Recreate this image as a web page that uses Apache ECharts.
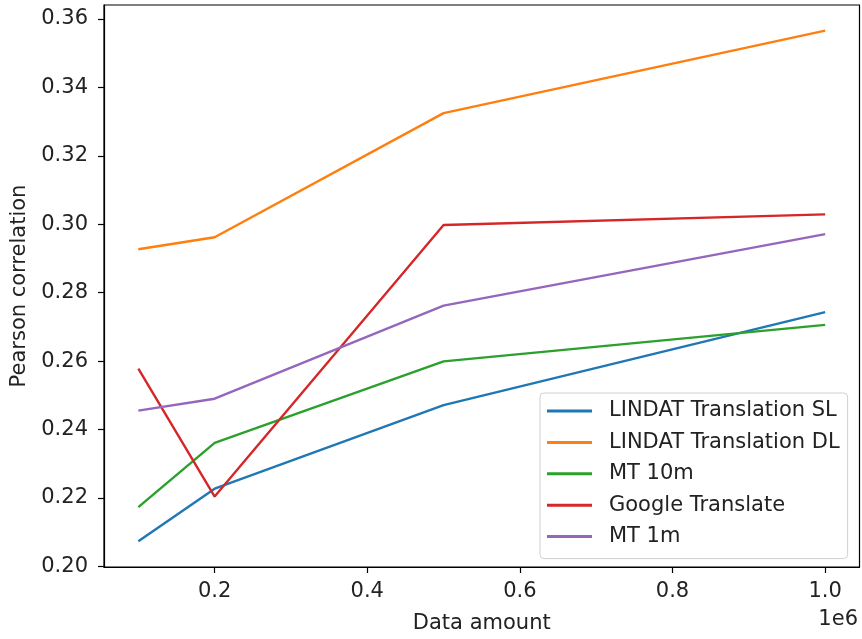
<!DOCTYPE html>
<html>
<head>
<meta charset="utf-8">
<script src="https://cdn.jsdelivr.net/npm/echarts@6/dist/echarts.min.js"></script>
<style>html,body{margin:0;padding:0;background:#fff}#c{width:862px;height:639px}</style>
</head>
<body>
<div id="c"></div>
<script>
const dataAmount = [100000, 200000, 500000, 1000000];
const seriesNames = ['LINDAT Translation SL', 'LINDAT Translation DL', 'MT 10m', 'Google Translate', 'MT 1m'];
const lindatSL = [0.2073, 0.2227, 0.2471, 0.2743];
const lindatDL = [0.2927, 0.2962, 0.3325, 0.3566];
const mt10m = [0.2173, 0.2361, 0.2599, 0.2706];
const googleTranslate = [0.2578, 0.2204, 0.2998, 0.3029];
const mt1m = [0.2455, 0.2490, 0.2762, 0.2971];
const xTicks = [200000, 400000, 600000, 800000, 1000000];
const yTicks = [0.20, 0.22, 0.24, 0.26, 0.28, 0.30, 0.32, 0.34, 0.36];
const colors = ['#1f77b4', '#ff7f0e', '#2ca02c', '#d62728', '#9467bd'];

const allValues = [lindatSL, lindatDL, mt10m, googleTranslate, mt1m];
const font = 'DejaVu Sans';
const txt = '#222';
const fs = 21;

const chart = echarts.init(document.getElementById('c'), null, {renderer: 'canvas'});
chart.setOption({
  animation: false,
  backgroundColor: '#fff',
  grid: {left: 104, right: 2.5, top: 5, bottom: 70.5, show: true, borderColor: '#000', borderWidth: 1.2, backgroundColor: 'transparent'},
  xAxis: {
    type: 'value', min: 55000, max: 1045000,
    name: 'Data amount', nameLocation: 'middle', nameGap: 46,
    nameTextStyle: {fontFamily: font, fontSize: fs, color: txt},
    axisLine: {show: true, lineStyle: {color: '#000', width: 1.2}},
    axisTick: {show: true, length: 6, customValues: xTicks, lineStyle: {color: '#000', width: 1.2}},
    axisLabel: {customValues: xTicks, margin: 14, fontFamily: font, fontSize: fs, color: txt,
      formatter: v => (v / 1e6).toFixed(1)},
    splitLine: {show: false}
  },
  yAxis: {
    type: 'value', min: 0.1998, max: 0.3641,
    name: 'Pearson correlation', nameLocation: 'middle', nameGap: 71,
    nameTextStyle: {fontFamily: font, fontSize: fs, color: txt},
    axisLine: {show: true, lineStyle: {color: '#000', width: 1.2}},
    axisTick: {show: true, length: 6, customValues: yTicks, lineStyle: {color: '#000', width: 1.2}},
    axisLabel: {customValues: yTicks, margin: 16, fontFamily: font, fontSize: fs, color: txt,
      formatter: v => v.toFixed(2)},
    splitLine: {show: false}
  },
  legend: {
    orient: 'vertical', left: 540, top: 393,
    backgroundColor: 'rgba(255,255,255,0.85)', borderColor: '#d0d0d0', borderWidth: 1, borderRadius: 4,
    padding: [6, 8, 10, 7], itemGap: 7.4, itemWidth: 45, itemHeight: 3, icon: 'rect',
    textStyle: {fontFamily: font, fontSize: fs, color: txt, lineHeight: 24, padding: [0, 0, 0, 12]},
    data: seriesNames
  },
  graphic: [{
    type: 'text', right: 4, top: 609,
    style: {text: '1e6', font: fs + 'px "DejaVu Sans"', fill: txt}
  }],
  series: seriesNames.map((n, i) => ({
    name: n, type: 'line', showSymbol: false, symbol: 'none',
    data: dataAmount.map((x, j) => [x, allValues[i][j]]),
    lineStyle: {color: colors[i], width: 2.4}, itemStyle: {color: colors[i]}
  }))
});
</script>
</body>
</html>
